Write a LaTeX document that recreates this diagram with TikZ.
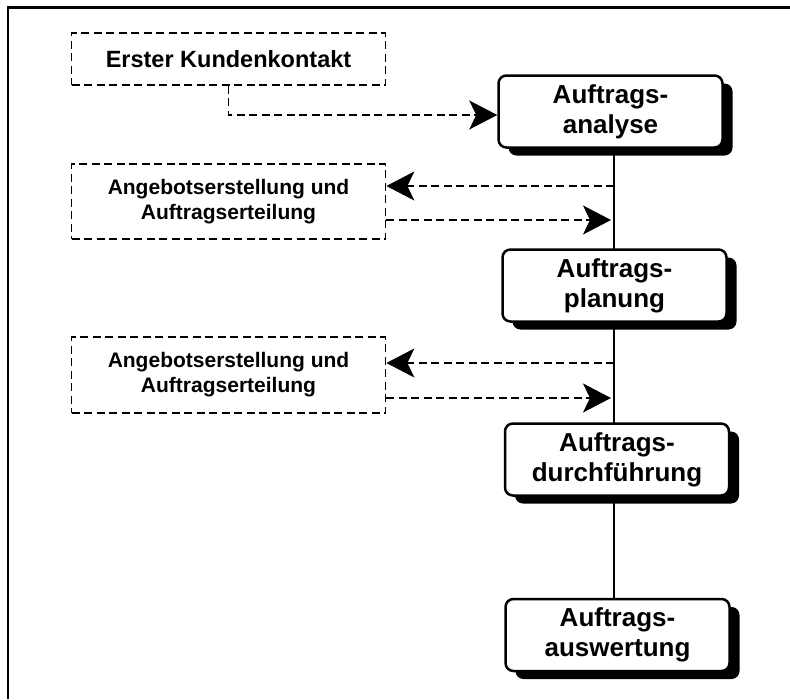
\documentclass[tikz,border=0pt]{standalone}
\usepackage{fontspec}
\setmainfont{Liberation Sans}
\usetikzlibrary{arrows.meta,shadows}
\begin{document}
\begin{tikzpicture}[x=1pt,y=-1pt,
  phase/.style={draw,line width=2.5pt,rounded corners=8pt,fill=white,
    minimum width=224pt,minimum height=72pt,inner sep=0pt,align=center,
    font=\bfseries\fontsize{26}{30}\selectfont,
    drop shadow={shadow xshift=10pt,shadow yshift=-8pt,fill=black,opacity=1}},
  extbox/.style={draw,dash pattern=on 8pt off 4.5pt,line width=1.7pt,
    minimum width=314pt,inner sep=0pt,align=center},
  dashconn/.style={dash pattern=on 8pt off 4.5pt,line width=1.7pt,
    -{Stealth[length=28pt,width=29pt,inset=7pt]}},
  vline/.style={line width=1.5pt}]
\useasboundingbox (0,0) rectangle (790,699);
% frame (top and left edges only)
\draw[line width=2.5pt] (8,699) -- (8,7.3) -- (790,7.3);

% coordinates on the vertical line
\coordinate (l1) at (614,186);
\coordinate (r1) at (611,220);
\coordinate (l2) at (614,363);
\coordinate (r2) at (611,398);

% vertical line (behind boxes)
\draw[vline] (614,148) coordinate (vtop) -- (614,598) coordinate (vbot);

% phase boxes
\node[phase] (analyse) at (610.5,111.5) {Auftrags-\\analyse};
\node[phase] (planung) at (614.5,285.5) {Auftrags-\\planung};
\node[phase] (durch) at (617,459.5) {Auftrags-\\durchführung};
\node[phase] (auswert) at (617.5,635) {Auftrags-\\auswertung};

% external dashed boxes
\node[extbox,minimum height=52pt,font=\bfseries\fontsize{23.5}{28}\selectfont]
  (kontakt) at (228.5,59) {Erster Kundenkontakt};
\node[extbox,minimum height=75pt,font=\bfseries\fontsize{21}{25}\selectfont]
  (angebot1) at (228.5,201.5) {Angebotserstellung und\\Auftragserteilung};
\node[extbox,minimum height=76pt,font=\bfseries\fontsize{21}{25}\selectfont]
  (angebot2) at (228.5,375) {Angebotserstellung und\\Auftragserteilung};

% connectors
\draw[dashconn] (kontakt.south) |- ([yshift=-3.5pt]analyse.west);
\draw[dashconn] (l1) -- (angebot1.east |- l1);
\draw[dashconn] (r1 -| angebot1.east) -- (r1);
\draw[dashconn] (l2) -- (angebot2.east |- l2);
\draw[dashconn] (r2 -| angebot2.east) -- (r2);
\end{tikzpicture}
\end{document}
